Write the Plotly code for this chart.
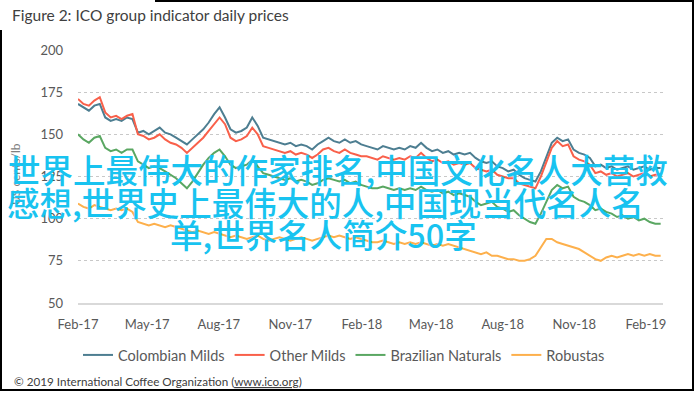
import pandas as pd
import plotly.graph_objects as go

# ---- data (weekly readings, US cents/lb) ----
dates = pd.date_range("2017-02-01", periods=108, freq="7D")

colombian_milds = [168, 166, 164, 167, 168, 160, 158, 159, 158, 160, 159, 151, 152, 150, 152, 154,
                   151, 150, 148, 146, 144, 147, 150, 153, 157, 162, 166, 160, 153, 151, 152, 154,
                   160, 155, 148, 147, 146, 145, 144, 145, 143, 144, 143, 141, 144, 146, 148, 146,
                   145, 147, 145, 146, 144, 143, 142, 141, 143, 142, 141, 142, 141, 143, 142, 145,
                   142, 140, 141, 139, 140, 138, 139, 138, 139, 136, 134, 133, 134, 131, 130, 128,
                   129, 126, 124, 123, 122, 128, 136, 145, 148, 146, 147, 141, 139, 138, 136, 131,
                   132, 130, 131, 129, 130, 131, 129, 130, 131, 129, 130, 130]

other_milds = [171, 168, 167, 170, 172, 163, 160, 161, 159, 161, 162, 150, 149, 147, 148, 150,
               147, 145, 144, 142, 139, 142, 145, 148, 152, 156, 160, 156, 148, 146, 147, 149,
               154, 150, 143, 142, 141, 140, 139, 140, 138, 139, 138, 136, 138, 141, 142, 140,
               139, 141, 139, 138, 137, 137, 136, 135, 137, 136, 135, 136, 135, 137, 136, 139,
               136, 134, 135, 133, 134, 132, 133, 132, 133, 130, 129, 128, 129, 126, 125, 124,
               124, 121, 120, 119, 118, 125, 133, 142, 146, 143, 144, 137, 135, 134, 132, 127,
               128, 126, 127, 125, 126, 127, 125, 126, 127, 125, 126, 126]

brazilian_naturals = [150, 147, 145, 148, 149, 142, 140, 141, 139, 141, 141, 134, 132, 130, 131, 130,
                      128, 126, 124, 121, 118, 122, 127, 132, 136, 139, 141, 137, 132, 130, 131, 132,
                      135, 131, 127, 126, 125, 124, 123, 124, 122, 123, 122, 120, 121, 123, 124, 123,
                      122, 123, 121, 122, 120, 119, 118, 118, 119, 118, 117, 118, 117, 118, 117, 119,
                      117, 116, 117, 115, 116, 114, 115, 114, 113, 110, 108, 109, 110, 107, 106, 104,
                      105, 102, 100, 98, 97, 103, 110, 117, 120, 118, 119, 113, 111, 110, 108, 105,
                      106, 104, 103, 101, 102, 100, 101, 99, 100, 98, 97, 97]

robustas = [109, 107, 106, 108, 107, 106, 105, 106, 105, 106, 104, 98, 97, 96, 97, 96,
            95, 96, 95, 94, 93, 92, 93, 92, 91, 92, 91, 90, 89, 90, 89, 88,
            89, 90, 88, 87, 88, 89, 88, 87, 88, 89, 88, 87, 88, 89, 90, 89,
            90, 89, 88, 89, 88, 87, 86, 86, 87, 86, 85, 86, 85, 86, 85, 86,
            85, 84, 85, 84, 85, 84, 83, 82, 81, 80, 79, 80, 78, 78, 77, 76,
            76, 75, 75, 76, 78, 83, 88, 88, 86, 85, 84, 83, 82, 80, 78, 76,
            75, 77, 78, 77, 78, 79, 78, 79, 78, 79, 78, 78]

series_names = ["Colombian Milds", "Other Milds", "Brazilian Naturals", "Robustas"]
series_values = [colombian_milds, other_milds, brazilian_naturals, robustas]
series_colors = ["#4d7e91", "#f9604a", "#5aa762", "#fdb04c"]

y_ticks = [50, 75, 100, 125, 150, 175, 200]
x_tick_dates = ["2017-02-01", "2017-05-01", "2017-08-01", "2017-11-01", "2018-02-01",
                "2018-05-01", "2018-08-01", "2018-11-01", "2019-02-01"]
x_tick_labels = ["Feb-17", "May-17", "Aug-17", "Nov-17", "Feb-18",
                 "May-18", "Aug-18", "Nov-18", "Feb-19"]

title_text = "Figure 2: ICO group indicator daily prices"
footer_text = "© 2019 International Coffee Organization (<u>www.ico.org</u>)"
overlay_lines = ["世界上最伟大的作家排名,中国文化名人大营救",
                 "感想,世界史上最伟大的人,中国现当代名人名",
                 "单,世界名人简介50字"]

# ---- layout geometry (pixels) ----
W, H = 695, 394
L, R, T, B = 78, 32, 50, 91
PW, PH = W - L - R, H - T - B


def px(x):
    return (x - L) / PW


def py(y):
    return (H - B - y) / PH


FONT = "Lato, 'Open Sans', sans-serif"
CJK = "'Noto Sans CJK SC', sans-serif"

fig = go.Figure()
for name, vals, col in zip(series_names, series_values, series_colors):
    fig.add_trace(go.Scatter(x=dates, y=vals, mode="lines", name=name,
                             line=dict(color=col, width=2)))

fig.update_layout(
    width=W, height=H,
    margin=dict(l=L, r=R, t=T, b=B, pad=0),
    paper_bgcolor="white", plot_bgcolor="white",
    font=dict(family=FONT, color="#595959", size=13),
    showlegend=True,
    legend=dict(orientation="h", x=px(344), xanchor="center", y=py(355), yanchor="middle",
                font=dict(size=14.5, color="#595959"), bgcolor="rgba(0,0,0,0)",
                itemwidth=30, tracegroupgap=0),
    xaxis=dict(range=["2017-02-01", "2019-02-23"], tickmode="array",
               tickvals=x_tick_dates, ticktext=x_tick_labels, showgrid=False,
               showline=True, linecolor="#d9d9d9", linewidth=2, ticks="",
               ticklabelstandoff=8, tickfont=dict(size=13, color="#595959")),
    yaxis=dict(range=[50, 200], tickmode="array", tickvals=y_ticks,
               showgrid=True, gridcolor="#c8c8c8", griddash="dot", gridwidth=1,
               zeroline=False, showline=False, ticks="", ticklabelstandoff=14,
               tickfont=dict(size=13, color="#595959")),
)

annotations = [
    dict(text=title_text, x=px(10), y=py(15), xanchor="left", yanchor="middle",
         font=dict(size=15.5, color="#404040", family=FONT)),
    dict(text=footer_text, x=px(12), y=py(381), xanchor="left", yanchor="middle",
         font=dict(size=11.7, color="#404040", family=FONT)),
    dict(text="US cents/lb", x=px(15), y=py(174), xanchor="center", yanchor="middle",
         textangle=-90, font=dict(size=12, color="#7f7f7f", family=FONT)),
    dict(text=overlay_lines[0], x=px(338), y=py(168), xanchor="center", yanchor="middle",
         font=dict(size=32.5, color="#18c3f0", family=CJK, weight=500)),
    dict(text=overlay_lines[1], x=px(325), y=py(201), xanchor="center", yanchor="middle",
         font=dict(size=32.5, color="#18c3f0", family=CJK, weight=500)),
    dict(text=overlay_lines[2], x=px(323), y=py(233), xanchor="center", yanchor="middle",
         font=dict(size=32.5, color="#18c3f0", family=CJK, weight=500)),
]
for a in annotations:
    a.update(xref="paper", yref="paper", showarrow=False)
fig.update_layout(annotations=annotations)

frame = [
    (1, 30, 1, 391),
    (0, 390, 694, 390),
    (693, 0, 693, 391),
    (155, 1, 694, 1),
]
fig.update_layout(shapes=[
    dict(type="line", xref="paper", yref="paper", x0=px(a), y0=py(b), x1=px(c), y1=py(d),
         line=dict(color="black", width=2), layer="above")
    for a, b, c, d in frame
])

fig.write_html("out.html", config={"displayModeBar": False},
               post_script="document.body.style.margin='0';")
